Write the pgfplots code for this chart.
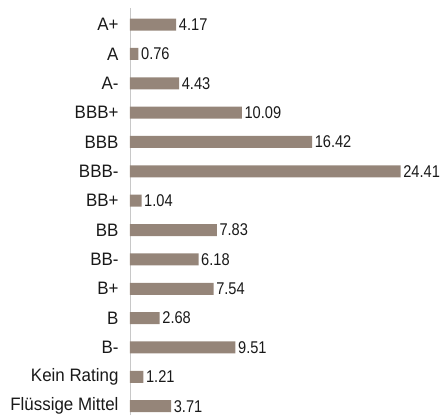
\documentclass[border=0pt]{standalone}
\usepackage{fontspec}
\setmainfont{Liberation Sans}[FakeStretch=0.94]
\newfontfamily\numfont{Liberation Sans}[FakeStretch=0.86]
\usepackage{pgfplots}
\pgfplotsset{compat=1.18}
\definecolor{barc}{HTML}{958579}
\definecolor{axc}{HTML}{C8C8C8}
\begin{document}
\begin{tikzpicture}
\begin{axis}[
  at={(0,0)}, anchor=south west,
  scale only axis,
  width=277.2pt, height=406.6pt,
  xbar, bar width=12pt,
  xmin=0, xmax=25,
  ymin=-0.3, ymax=13.55,
  enlargelimits=false,
  axis x line=none,
  axis y line*=left,
  y axis line style={axc, line width=0.9pt, -},
  xtick=\empty,
  ytick={0,...,13},
  yticklabels={Flüssige Mittel,Kein Rating,B-,B,B+,BB-,BB,BB+,BBB-,BBB,BBB+,A-,A,A+},
  major tick length=0pt,
  yticklabel style={font=\fontsize{18}{21}\selectfont, xshift=-8pt, text=black!90},
  /pgf/number format/assume math mode=true,
  nodes near coords={\pgfmathprintnumber[fixed,fixed zerofill,precision=2]{\pgfplotspointmeta}},
  nodes near coords style={font=\numfont\fontsize{17}{20}\selectfont, inner sep=2.5pt, anchor=west, text=black!90},
  clip=false,
]
\addplot[fill=barc, draw=none] coordinates {
(3.71,0) (1.21,1) (9.51,2) (2.68,3) (7.54,4) (6.18,5) (7.83,6)
(1.04,7) (24.41,8) (16.42,9) (10.09,10) (4.43,11) (0.76,12) (4.17,13)
};
\end{axis}
\pgfresetboundingbox
\useasboundingbox (-130pt,0pt) rectangle (317pt,415pt);
\end{tikzpicture}
\end{document}
